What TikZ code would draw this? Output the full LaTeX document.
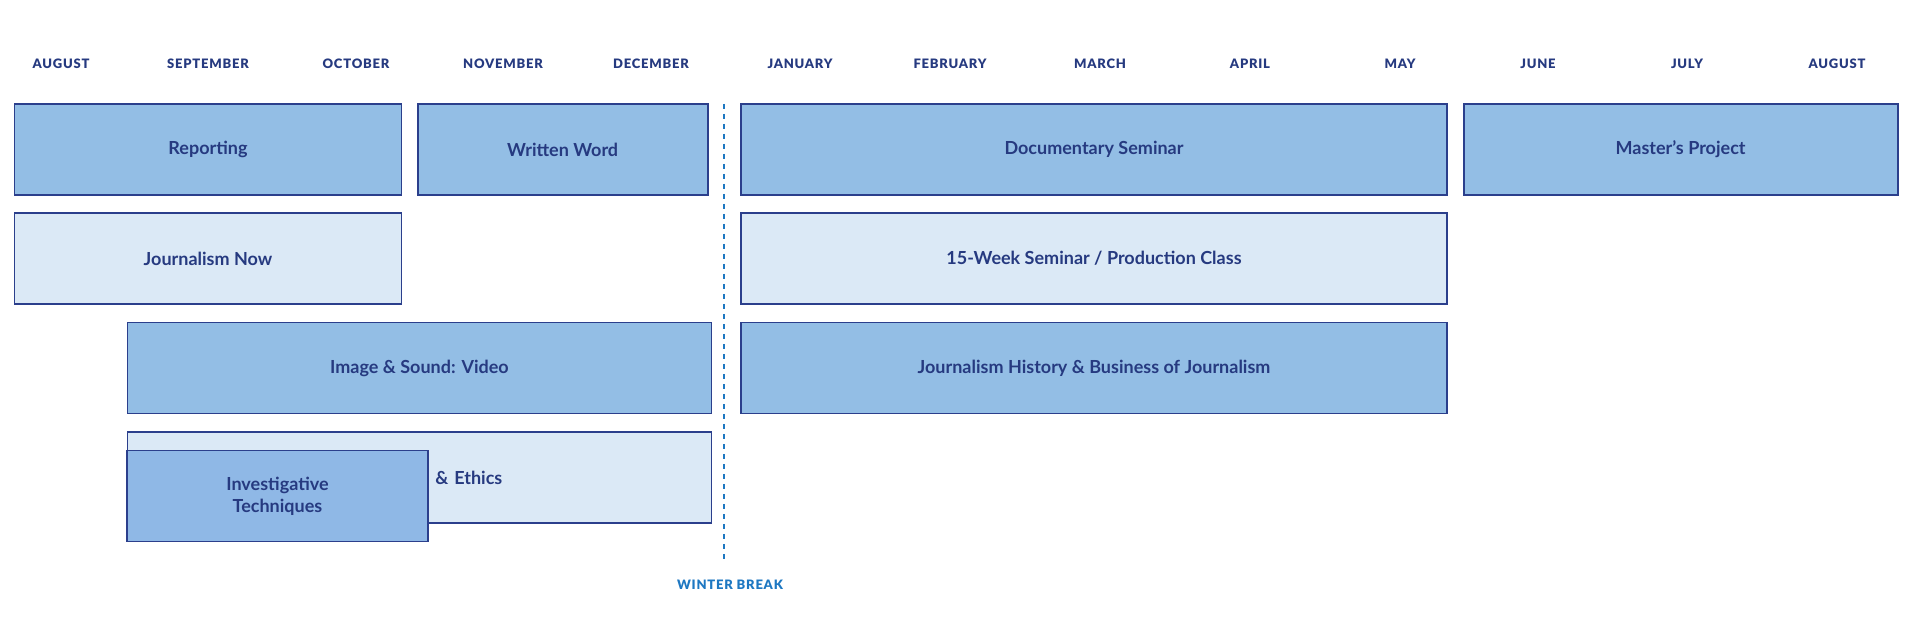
\documentclass[tikz,border=0pt]{standalone}
\usepackage{fontspec}
\setmainfont{Lato}
\definecolor{darkfill}{HTML}{93BEE5}
\definecolor{lightfill}{HTML}{DBE9F6}
\definecolor{edge}{HTML}{2B3F8C}
\definecolor{txt}{HTML}{263A80}
\definecolor{wb}{HTML}{1E78C2}
\begin{document}
\begin{tikzpicture}[x=1pt,y=-1pt,
  course/.style={draw=edge,line width=1.8pt,text=txt,font=\fontsize{18}{22}\selectfont\bfseries,align=center},
  dk/.style={course,fill=darkfill},
  lt/.style={course,fill=lightfill},
  month/.style={text=txt,font=\fontsize{13}{15}\selectfont\fontspec{Lato Black}\addfontfeatures{LetterSpace=6}}]
\useasboundingbox (0,0) rectangle (1920,639);
\foreach \x/\m [count=\i] in {61/AUGUST,208/SEPTEMBER,356/OCTOBER,503/NOVEMBER,651/DECEMBER,800/JANUARY,950/FEBRUARY,1100/MARCH,1250/APRIL,1400/MAY,1538/JUNE,1687/JULY,1837/AUGUST}
  \node[month] (m\i) at (\x,64) {\m};
\draw[wb,line width=1.5pt,dash pattern=on 5pt off 5pt] (724,104) coordinate (wt) -- (724,563) coordinate (wbot);
\node[text=wb,font=\fontsize{13}{15}\selectfont\fontspec{Lato Black}\addfontfeatures{LetterSpace=6}] (wbt) at (730,585) {WINTER BREAK};
\node[dk,minimum width=387pt,minimum height=91pt] (rep) at (208,149.5) {Reporting};
\node[dk,minimum width=290pt,minimum height=91pt] (ww) at (562.7,149.5) {Written Word};
\node[dk,minimum width=706pt,minimum height=91pt] (doc) at (1094,149.5) {Documentary Seminar};
\node[dk,minimum width=434pt,minimum height=91pt] (mp) at (1680.6,149.5) {Master’s Project};
\node[lt,minimum width=387pt,minimum height=91pt] (jn) at (208,258.4) {Journalism Now};
\node[lt,minimum width=706pt,minimum height=91pt] (sem) at (1094,258.4) {15-Week Seminar / Production Class};
\node[dk,minimum width=584pt,minimum height=91pt] (img) at (419.4,368) {Image \& Sound: Video};
\node[dk,minimum width=706pt,minimum height=91pt] (jh) at (1094,368) {Journalism History \& Business of Journalism};
\node[lt,minimum width=584pt,minimum height=91pt,text width=250pt] (law) at (419.4,477.5) {\hspace*{60pt}Law \& Ethics};
\node[course,fill=darkfill!97!blue,minimum width=301pt,minimum height=91pt] (inv) at (277.5,496) {Investigative\\Techniques};
\end{tikzpicture}
\end{document}
